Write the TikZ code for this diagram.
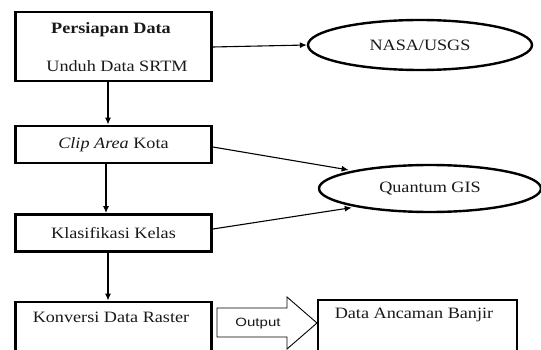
\documentclass[tikz,border=0pt]{standalone}
\usepackage{fontspec}
\setmainfont{Liberation Serif}[FakeStretch=1.15]
\newfontfamily\outfont{Liberation Sans}[FakeStretch=1.25]
\usetikzlibrary{arrows.meta,shapes.geometric}
\begin{document}
\begin{tikzpicture}[x=1pt,y=-1pt,
  every node/.style={font=\fontsize{15.8}{19}\selectfont, text=black!90},
  stepbox/.style={draw, line width=2.8pt, rectangle, inner sep=0pt},
  oval/.style={draw, line width=2.4pt, ellipse, inner sep=0pt},
  flow/.style={line width=1.3pt, -{Latex[length=7pt,width=6pt]}},
  link/.style={line width=1.1pt, -{Latex[length=7pt,width=6pt]}},
  bigarrow/.style={draw, line width=0.9pt, fill=white, line join=miter}
]
\useasboundingbox (0,0) rectangle (541,350);
\begin{scope}
\clip (0,0) rectangle (541,350);

% process column
\node[stepbox, minimum width=196, minimum height=69] (b1) at (113.5,46.5) {};
\node at (111,30) {\bfseries Persiapan Data};
\node at (117,66) {Unduh Data SRTM};

\node[stepbox, minimum width=196, minimum height=37] (b2) at (113.5,144.5) {\textit{Clip Area} Kota};
\node[stepbox, minimum width=196, minimum height=37] (b3) at (113.5,233) {Klasifikasi Kelas};

\node[stepbox, minimum width=196, minimum height=80] (b4) at (113.5,342) {};
\node at (111,317) {Konversi Data Raster};

\node[stepbox, minimum width=199, minimum height=80] (b5) at (417.5,340) {};
\node at (414,315) {Data Ancaman Banjir};

% data sources
\node[oval, minimum width=224, minimum height=50] (nasa) at (420,45) {NASA/USGS};
\node[oval, minimum width=222, minimum height=47] (qgis) at (430,188.5) {Quantum GIS};

% block arrow between the last two boxes
\draw[bigarrow] (217,308) -- (287,308) -- (287,297) -- (317,323)
  -- (287,349) -- (287,337) -- (217,337) -- cycle;
\node[font=\outfont\fontsize{12}{14}\selectfont] (out) at (258,324) {Output};

% connectors
\draw[flow] (b1.south -| 108,0) -- (b2.north -| 108,0);
\draw[flow] (b2.south -| 106,0) -- (b3.north -| 106,0);
\draw[flow] (b3.south -| 108,0) -- (b4.north -| 108,0);
\draw[link] (b1.east |- 0,47) -- (nasa.west);
\draw[link, shorten >=4pt] (b2.east |- 0,147) -- (qgis.167);
\draw[link, shorten >=4pt] (b3.east |- 0,229) -- (qgis.194);
\end{scope}
\end{tikzpicture}
\end{document}
